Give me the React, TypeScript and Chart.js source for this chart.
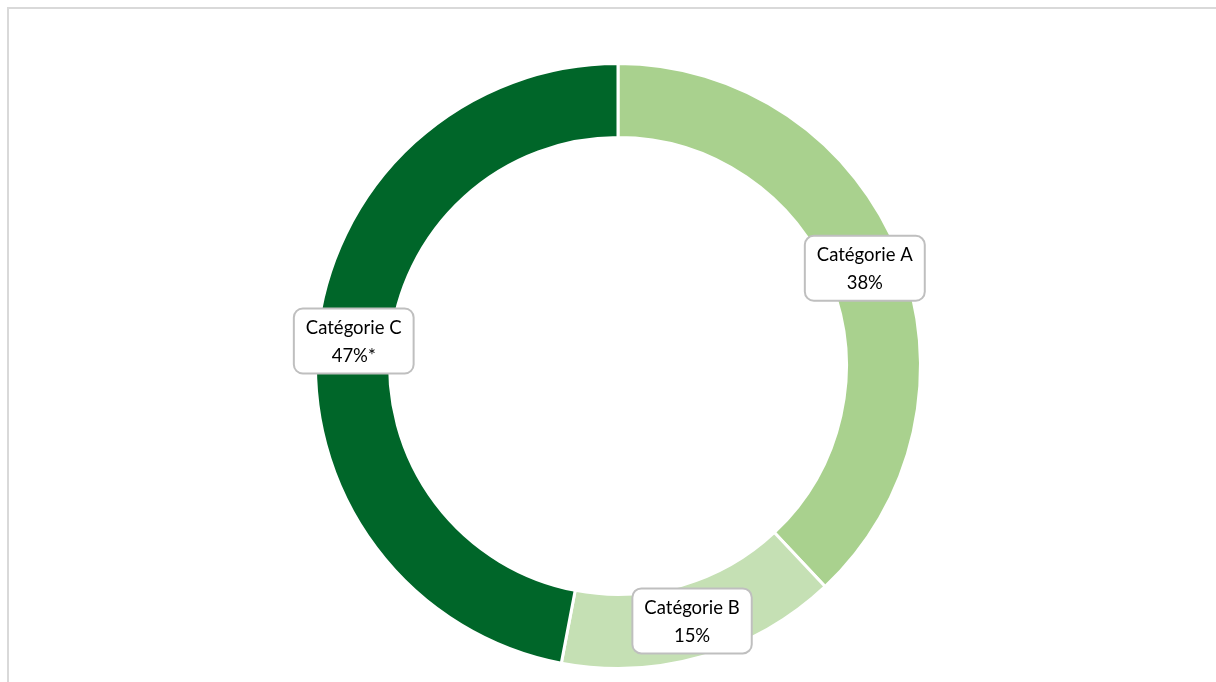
import React, { useEffect, useRef } from "react";
import { Chart, registerables } from "chart.js";

Chart.register(...registerables);

const categories = ["Catégorie A", "Catégorie B", "Catégorie C"];
const values = [38, 15, 47];
const valueLabels = ["38%", "15%", "47%*"];
const colors = ["#a9d18e", "#c5e0b4", "#006629"];

const labelPlugin = {
  id: "boxLabels",
  afterDatasetsDraw(chart: any) {
    const ctx = chart.ctx as CanvasRenderingContext2D;
    const meta = chart.getDatasetMeta(0);
    ctx.save();
    ctx.font = "18.5px Lato, 'Noto Sans', sans-serif";
    meta.data.forEach((arc: any, i: number) => {
      const p = arc.getCenterPoint();
      const l1 = categories[i];
      const l2 = valueLabels[i];
      const w = Math.max(ctx.measureText(l1).width, ctx.measureText(l2).width) + 24;
      const h = 65;
      const x = p.x - w / 2;
      const y = p.y - h / 2;
      ctx.beginPath();
      ctx.roundRect(x, y, w, h, 9);
      ctx.fillStyle = "#ffffff";
      ctx.fill();
      ctx.lineWidth = 2;
      ctx.strokeStyle = "#bfbfbf";
      ctx.stroke();
      ctx.fillStyle = "#000000";
      ctx.textAlign = "center";
      ctx.textBaseline = "middle";
      ctx.fillText(l1, p.x, p.y - 13);
      ctx.fillText(l2, p.x, p.y + 15);
    });
    ctx.restore();
  },
};

export default function App() {
  const ref = useRef<HTMLCanvasElement>(null);
  useEffect(() => {
    if (!ref.current) return;
    const chart = new Chart(ref.current, {
      type: "doughnut",
      data: {
        labels: categories,
        datasets: [
          {
            data: values,
            backgroundColor: colors,
            borderColor: "#ffffff",
            borderWidth: 3,
          },
        ],
      },
      options: {
        animation: false,
        responsive: true,
        maintainAspectRatio: false,
        cutout: "75.5%",
        layout: { padding: { top: 62, bottom: 12, left: 20, right: 0 } },
        plugins: {
          legend: { display: false },
          tooltip: { enabled: false },
          title: { display: false },
        },
      },
      plugins: [labelPlugin],
    });
    return () => chart.destroy();
  }, []);
  return (
    <div style={{ position: "absolute", left: 0, top: 0, width: 1216, height: 682, overflow: "hidden", background: "#fff" }}>
      <div
        style={{
          position: "absolute",
          left: 7,
          top: 7,
          width: 1240,
          height: 700,
          border: "2px solid #d9d9d9",
          boxSizing: "border-box",
        }}
      />
      <div style={{ position: "absolute", left: 0, top: 0, width: 1216, height: 682 }}>
        <canvas ref={ref} />
      </div>
    </div>
  );
}
